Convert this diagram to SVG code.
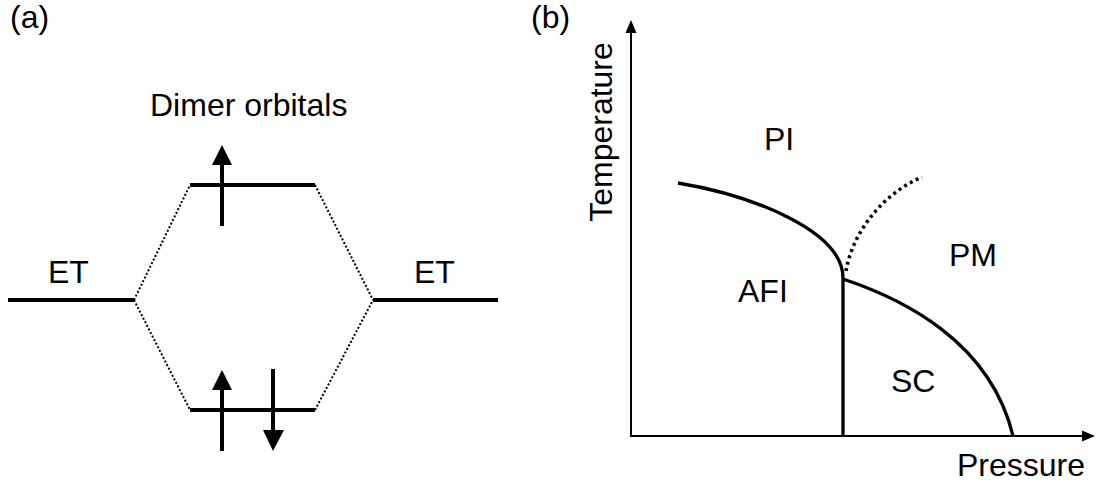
<svg xmlns="http://www.w3.org/2000/svg" width="1099" height="481" viewBox="0 0 1099 481">
<style>
text { font-family: "Liberation Sans", Arial, Helvetica, sans-serif; font-size: 32px; fill: #000; }
.level { stroke: #000; stroke-width: 4; fill: none; }
.corr { stroke: #000; stroke-width: 2; stroke-dasharray: 2 2; fill: none; }
.spin { stroke: #000; stroke-width: 4; fill: none; }
.head { fill: #000; stroke: none; }
.axis { stroke: #000; stroke-width: 2; fill: none; }
.phase { stroke: #000; stroke-width: 3.3; fill: none; }
.cross { stroke: #000; stroke-width: 3.5; stroke-dasharray: 3 3.6; fill: none; }
</style>
<rect width="1099" height="481" fill="#fff"/>

<!-- Panel (a) -->
<text id="label-a" x="10" y="28">(a)</text>
<text id="title-dimer" x="150" y="116">Dimer orbitals</text>

<g id="connectors-a">
  <line class="corr" x1="134" y1="300" x2="190" y2="185"/>
  <line class="corr" x1="134" y1="300" x2="190" y2="410"/>
  <line class="corr" x1="315" y1="185" x2="373" y2="300"/>
  <line class="corr" x1="315" y1="410" x2="373" y2="300"/>
</g>

<g id="et-left">
  <line class="level" x1="8" y1="300" x2="134" y2="300"/>
  <text x="48" y="283">ET</text>
</g>
<g id="et-right">
  <line class="level" x1="373" y1="300" x2="498" y2="300"/>
  <text x="414" y="283">ET</text>
</g>

<g id="orbital-upper">
  <line class="level" x1="190" y1="185" x2="315" y2="185"/>
  <line class="spin" x1="222" y1="226" x2="222" y2="163"/>
  <polygon class="head" points="222,145 212,165 232,165"/>
</g>

<g id="orbital-lower">
  <line class="level" x1="190" y1="410" x2="315" y2="410"/>
  <line class="spin" x1="222" y1="451" x2="222" y2="388"/>
  <polygon class="head" points="222,370 212,390 232,390"/>
  <line class="spin" x1="273" y1="369" x2="273" y2="432"/>
  <polygon class="head" points="273,451 263,430 284,430"/>
</g>

<!-- Panel (b) -->
<text id="label-b" x="531" y="28">(b)</text>

<g id="axes">
  <line class="axis" x1="631" y1="436" x2="631" y2="30"/>
  <polygon class="head" points="631,20 625.5,33 636.5,33"/>
  <line class="axis" x1="630" y1="436" x2="1085" y2="436"/>
  <polygon class="head" points="1095,436 1082,430.5 1082,441.5"/>
  <text x="957" y="476">Pressure</text>
  <text transform="translate(612,132) rotate(-90)" text-anchor="middle">Temperature</text>
</g>

<g id="phase-boundaries">
  <path class="phase" d="M678,183 C750,195 843,230 843,278"/>
  <line class="phase" x1="843" y1="278" x2="843" y2="436"/>
  <path class="phase" d="M843,279 C900,298 990,340 1013,436"/>
  <path class="cross" d="M846,271 C852,235 880,195 922,177"/>
</g>

<g id="region-PI"><text x="764" y="150">PI</text></g>
<g id="region-AFI"><text x="738" y="302">AFI</text></g>
<g id="region-PM"><text x="949" y="266">PM</text></g>
<g id="region-SC"><text x="891" y="392">SC</text></g>
</svg>
